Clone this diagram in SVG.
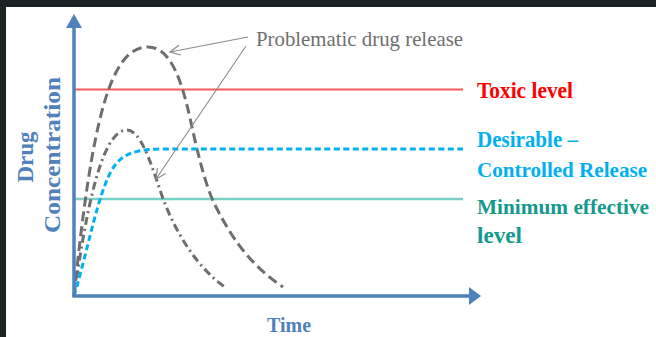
<svg xmlns="http://www.w3.org/2000/svg" width="656" height="337" viewBox="0 0 656 337">
<defs>
<style>
.lbl{font-family:'Liberation Serif','Times New Roman','DejaVu Serif','Noto Serif',Times,serif;font-weight:bold;}
.ann{font-family:'Liberation Serif','Times New Roman','DejaVu Serif','Noto Serif',Times,serif;fill:#6f6f6f;}
.axis{stroke:#4f81bd;stroke-width:3.5;fill:none;}
.gray{stroke:#6e6e6e;stroke-width:3;fill:none;}
.pointer{stroke:#8a8a8a;stroke-width:1.1;fill:none;marker-end:url(#open);}
</style>
<marker id="open" viewBox="0 0 12 12" refX="11" refY="6" markerWidth="12" markerHeight="12" markerUnits="userSpaceOnUse" orient="auto">
<path d="M1,1 L11,6 L1,11" fill="none" stroke="#8a8a8a" stroke-width="1.2"/>
</marker>
</defs>
<rect x="0" y="0" width="656" height="337" fill="#1c2322"/>
<rect x="6" y="7" width="650" height="330" fill="#ffffff"/>

<g id="levels">
<line x1="74" y1="89.5" x2="463" y2="89.5" stroke="#f45b5b" stroke-width="2"/>
<line x1="74" y1="199" x2="463" y2="199" stroke="#7ccfc5" stroke-width="2.5"/>
</g>

<g id="connectors">
<path id="curve-high" class="gray" stroke-dasharray="10 5" d="M74,296 C92,120 110,47 148,47 C170,47 181,78 190,118 C197,150 205,185 215,205 C235,245 255,268 283,287"/>
<path id="curve-mid" class="gray" stroke-dasharray="8 4 2 4" stroke-width="2.5" d="M74,296 C85,220 100,130 127,130 C140,130 150,160 160,190 C175,235 200,270 225,287"/>
<path id="curve-controlled" fill="none" stroke="#00b0f0" stroke-width="3" stroke-dasharray="6 3.5" d="M74,296 C85,260 95,210 105,185 C115,158 125,150 160,149 L463,149"/>
<line class="pointer" x1="248" y1="37" x2="170" y2="52"/>
<line class="pointer" x1="246" y1="46" x2="156" y2="179"/>
</g>

<g id="axes">
<line class="axis" x1="74" y1="297" x2="74" y2="26"/>
<polygon points="66,28 74,14 82,28" fill="#4f81bd"/>
<line class="axis" x1="72.5" y1="296" x2="470" y2="296"/>
<polygon points="469,287 481,296 469,305" fill="#4f81bd"/>
</g>

<g id="label-problematic">
<text class="ann" x="256" y="46" font-size="22" textLength="207" lengthAdjust="spacingAndGlyphs">Problematic drug release</text>
</g>
<g id="label-toxic">
<text class="lbl" x="477" y="98" font-size="23" fill="#ff0000" textLength="96" lengthAdjust="spacingAndGlyphs">Toxic level</text>
</g>
<g id="label-desirable">
<text class="lbl" x="477" y="147" font-size="23" fill="#00b0f0" textLength="101" lengthAdjust="spacingAndGlyphs">Desirable –</text>
<text class="lbl" x="477" y="177" font-size="21" fill="#00b0f0" textLength="170" lengthAdjust="spacingAndGlyphs">Controlled Release</text>
</g>
<g id="label-minimum">
<text class="lbl" x="477" y="214" font-size="21" fill="#139a8d" textLength="172" lengthAdjust="spacingAndGlyphs">Minimum effective</text>
<text class="lbl" x="477" y="243" font-size="23" fill="#139a8d" textLength="45" lengthAdjust="spacingAndGlyphs">level</text>
</g>
<g id="label-time">
<text class="lbl" x="267" y="332" font-size="21" fill="#4f81bd" textLength="44" lengthAdjust="spacingAndGlyphs">Time</text>
</g>
<g id="label-y">
<text class="lbl" transform="translate(33,157) rotate(-90)" text-anchor="middle" font-size="23" fill="#4f81bd">Drug</text>
<text class="lbl" transform="translate(60,155) rotate(-90)" text-anchor="middle" font-size="23" fill="#4f81bd" textLength="156" lengthAdjust="spacingAndGlyphs">Concentration</text>
</g>
</svg>
